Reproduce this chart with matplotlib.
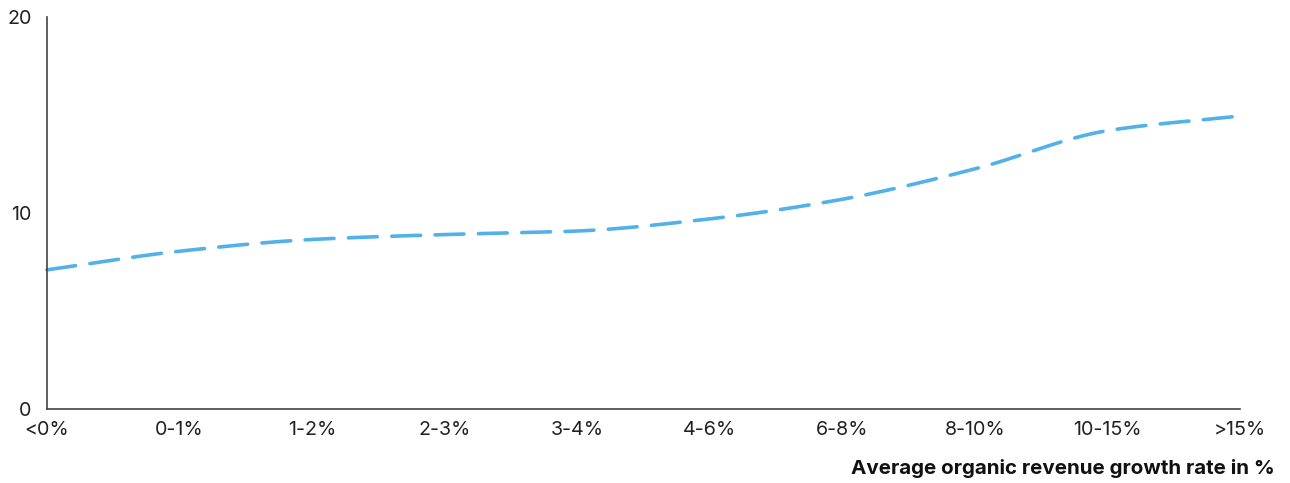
import numpy as np
import matplotlib.pyplot as plt

plt.rcParams['font.family'] = ['Inter', 'DejaVu Sans']

categories = ['<0%', '0-1%', '1-2%', '2-3%', '3-4%', '4-6%', '6-8%', '8-10%', '10-15%', '>15%']
values = [7.1, 8.05, 8.65, 8.9, 9.08, 9.7, 10.7, 12.25, 14.2, 14.95]
y_ticks = [0, 10, 20]


def smooth(x, y, n=40):
    # monotone cubic (Fritsch-Carlson) through the points, for a soft curve
    x = np.asarray(x, float)
    y = np.asarray(y, float)
    h = np.diff(x)
    d = np.diff(y) / h
    m = np.zeros_like(y)
    m[0], m[-1] = d[0], d[-1]
    for i in range(1, len(y) - 1):
        if d[i - 1] * d[i] > 0:
            m[i] = 2 / (1 / d[i - 1] + 1 / d[i])
    xs, ys = [], []
    for i in range(len(h)):
        t = np.linspace(0, 1, n, endpoint=False)
        h00 = 2 * t**3 - 3 * t**2 + 1
        h10 = t**3 - 2 * t**2 + t
        h01 = -2 * t**3 + 3 * t**2
        h11 = t**3 - t**2
        xs.append(x[i] + t * h[i])
        ys.append(h00 * y[i] + h10 * h[i] * m[i] + h01 * y[i + 1] + h11 * h[i] * m[i + 1])
    xs.append([x[-1]])
    ys.append([y[-1]])
    return np.concatenate(xs), np.concatenate(ys)


fig = plt.figure(figsize=(12.9, 4.83), dpi=100)
ax = fig.add_axes([47 / 1290, 1 - 409 / 483, (1240 - 47) / 1290, (409 - 17) / 483])

pos = np.arange(len(categories))
sx, sy = smooth(pos, values)
ax.plot(sx, sy, color='#52B1E8', lw=2.6, ls=(0, (8, 4)), dash_capstyle='round', clip_on=False)

ax.set_xlim(0, len(categories) - 1)
ax.set_ylim(0, 20)
ax.set_xticks(pos)
ax.set_xticklabels(categories)
ax.set_yticks(y_ticks)
ax.tick_params(axis='both', length=0, labelsize=14.2, colors='#222222')
ax.tick_params(axis='x', pad=8.5)
ax.tick_params(axis='y', pad=11)

for s in ['top', 'right']:
    ax.spines[s].set_visible(False)
for s in ['left', 'bottom']:
    ax.spines[s].set_color('#444444')
    ax.spines[s].set_linewidth(1.2)

fig.text(1275 / 1290, 1 - 468 / 483, 'Average organic revenue growth rate in %',
         ha='right', va='center', fontsize=14.8, fontweight='bold', color='#111111')

fig.savefig('out.png', dpi=100)
